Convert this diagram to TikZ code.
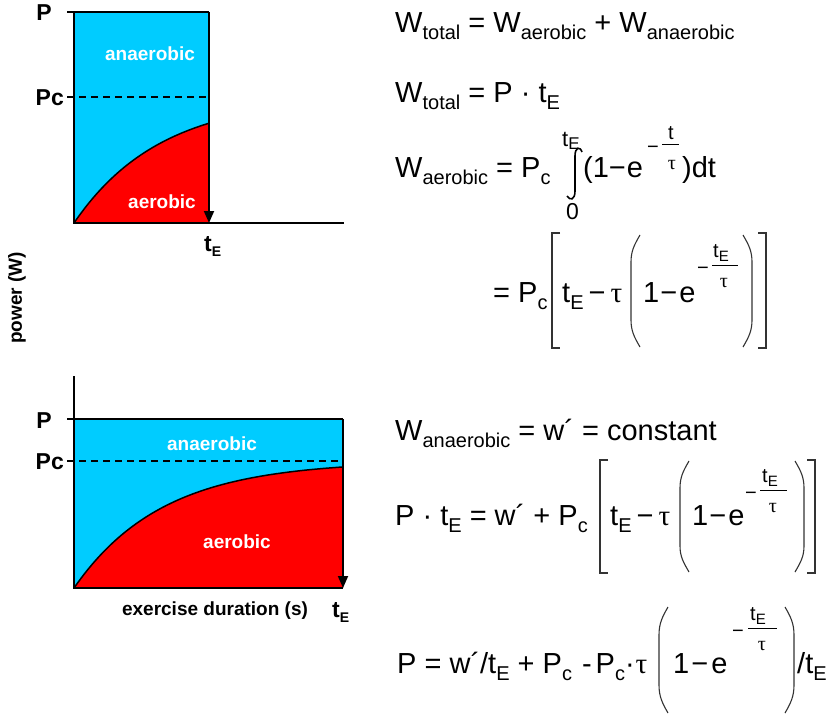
\documentclass[tikz,border=0pt]{standalone}
\usepackage{fontspec}
\setmainfont{Liberation Sans}
\newfontfamily\taufont{Liberation Serif}
\usetikzlibrary{arrows.meta}
\definecolor{skyc}{RGB}{0,204,255}
\newcommand\eqf{\fontsize{29}{32}\selectfont}
\newcommand\mysub[1]{\raisebox{-7pt}{\fontsize{20}{22}\selectfont #1}}
\newcommand\smsub[1]{\raisebox{-4pt}{\fontsize{15}{17}\selectfont #1}}
\newcommand\mytau{{\taufont τ}}
\newcommand\lbf{\fontsize{19}{22}\selectfont\bfseries}
\begin{document}
\begin{tikzpicture}[x=1pt,y=-1pt,
  eq/.style={inner sep=0pt,anchor=base west,font=\eqf},
  ex/.style={inner sep=0pt,anchor=base west,font=\fontsize{20}{22}\selectfont},
  exc/.style={inner sep=0pt,anchor=base,font=\fontsize{20}{22}\selectfont},
  lbl/.style={inner sep=0pt,anchor=east,font=\fontsize{23}{26}\selectfont\bfseries},
  wl/.style={inner sep=0pt,anchor=base,font=\lbf,text=white},
  axisline/.style={line width=1.8pt},
  curveline/.style={line width=1.5pt},
  pcline/.style={line width=1.2pt,dash pattern=on 7pt off 5pt},
  brk/.style={line width=1.1pt,black!80},
  fbar/.style={line width=1pt},
  tri/.style={-{Triangle[width=10pt,length=12pt]}}
]
\useasboundingbox (0,0) rectangle (835,717);

% ---------- top chart ----------
\fill[skyc] (74,12) rectangle (209,223);
\fill[red] (74,223) -- plot[domain=74:209,samples=60] (\x,{223-126*(1-exp(-(\x-74)/86))}) -- (209,223) -- cycle;
\draw[curveline] plot[domain=74:209,samples=60] (\x,{223-126*(1-exp(-(\x-74)/86))});
\draw[pcline] (67,97) -- (209,97);
\draw[axisline] (74,12) -- (74,223) -- (344,223);
\draw[axisline] (67,12) -- (209,12);
\draw[axisline,tri] (209,12) -- (209,223);
\node[lbl] (pT) at (52,13) {P};
\node[lbl] (pcT) at (64,98) {Pc};
\node[wl] (anT) at (150,61) {anaerobic};
\node[wl] (aeT) at (162,208) {aerobic};
\node[inner sep=0pt,anchor=base west,font=\fontsize{23}{26}\selectfont\bfseries] (teT) at (204,251) {t\raisebox{-5pt}{\fontsize{14}{16}\selectfont\bfseries E}};

% y label
\node[inner sep=0pt,rotate=90,font=\lbf] (ylab) at (17,298) {power (W)};

% ---------- bottom chart ----------
\fill[skyc] (74,419) rectangle (343,588);
\fill[red] (74,588) -- plot[domain=74:343,samples=80] (\x,{588-127*(1-exp(-(\x-74)/88))}) -- (343,588) -- cycle;
\draw[curveline] plot[domain=74:343,samples=80] (\x,{588-127*(1-exp(-(\x-74)/88))});
\draw[pcline] (67,461) -- (343,461);
\draw[axisline] (74,376) -- (74,588) -- (343,588);
\draw[axisline] (67,419) -- (343,419);
\draw[axisline,tri] (343,419) -- (343,588);
\node[lbl] (pB) at (52,421) {P};
\node[lbl] (pcB) at (64,462) {Pc};
\node[wl] (anB) at (212,450) {anaerobic};
\node[wl] (aeB) at (237,548) {aerobic};
\node[inner sep=0pt,anchor=base,font=\lbf] (xlab) at (215,615) {exercise duration (s)};
\node[inner sep=0pt,anchor=base west,font=\fontsize{23}{26}\selectfont\bfseries] (teB) at (332,617) {t\raisebox{-5pt}{\fontsize{14}{16}\selectfont\bfseries E}};

% ---------- equation 1 ----------
\node[eq] (e1) at (395,33) {W\mysub{total} = W\mysub{aerobic} + W\mysub{anaerobic}};
% ---------- equation 2 ----------
\node[eq] (e2) at (395,102) {W\mysub{total} = P · t\mysub{E}};
% ---------- equation 3 ----------
\node[eq] (e3a) at (395,177) {W\mysub{aerobic} = P\mysub{c}};
\draw[line width=1.6pt] (582,152) .. controls (580,146) and (575,147) .. (575,156) -- (575,191) .. controls (575,200) and (570,201) .. (567,196);
\node[inner sep=0pt,anchor=base west,font=\fontsize{22}{24}\selectfont] (e3up) at (562,146) {t\raisebox{-3pt}{\fontsize{17}{19}\selectfont E}};
\node[inner sep=0pt,anchor=base west,font=\fontsize{23}{25}\selectfont] (e3lo) at (566,219) {0};
\node[eq] (e3b) at (583,177) {(1−\kern1pt e};
\node[ex] (e3m) at (647,153) {−};
\draw[fbar] (662,144) -- (679,144);
\node[exc] (e3t) at (671,139) {t};
\node[exc] (e3tau) at (672,169) {\mytau};
\node[eq] (e3c) at (682,177) {)dt};

% ---------- equation 4 ----------
\node[eq] (e4a) at (493,302) {= P\mysub{c}};
\draw[brk] (560,233) -- (552,233) -- (552,348) -- (560,348);
\node[eq] (e4b) at (562,302) {t\mysub{E}\kern5pt−\kern5pt\mytau};
\draw[brk] (640,235) to[out=240,in=90] (631,262) -- (631,320) to[out=-90,in=120] (640,347);
\node[eq] (e4c) at (643,302) {1\kern1pt−\kern2pt e};
\node[ex] (e4m) at (697,274) {−};
\draw[fbar] (712,265) -- (738,265);
\node[ex] (e4t) at (713,257) {t\smsub{E}};
\node[exc] (e4tau) at (724,287) {\mytau};
\draw[brk] (743,235) to[out=-60,in=90] (752,262) -- (752,320) to[out=-90,in=60] (743,347);
\draw[brk] (758,233) -- (766,233) -- (766,348) -- (758,348);

% ---------- equation 5 ----------
\node[eq] (e5) at (395,440) {W\mysub{anaerobic} = w´ = constant};

% ---------- equation 6 ----------
\node[eq] (e6a) at (395,525) {P · t\mysub{E} = w´ + P\mysub{c}};
\draw[brk] (608,460) -- (600,460) -- (600,573) -- (608,573);
\node[eq] (e6b) at (610,525) {t\mysub{E}\kern5pt−\kern5pt\mytau};
\draw[brk] (689,461) to[out=240,in=90] (680,488) -- (680,546) to[out=-90,in=120] (689,572);
\node[eq] (e6c) at (692,525) {1\kern1pt−\kern2pt e};
\node[ex] (e6m) at (745,499) {−};
\draw[fbar] (760,490) -- (787,490);
\node[ex] (e6t) at (762,482) {t\smsub{E}};
\node[exc] (e6tau) at (773,512) {\mytau};
\draw[brk] (795,461) to[out=-60,in=90] (804,488) -- (804,546) to[out=-90,in=60] (795,572);
\draw[brk] (807,460) -- (815,460) -- (815,573) -- (807,573);

% ---------- equation 7 ----------
\node[eq] (e7a) at (397,673) {P = w´/t\mysub{E} + P\mysub{c}\kern10pt-\kern4pt P\mysub{c}·\kern1pt\mytau};
\draw[brk] (668,607) to[out=240,in=90] (659,635) -- (659,685) to[out=-90,in=120] (668,713);
\node[eq] (e7b) at (673,673) {1\kern2pt−\kern3pt e};
\node[ex] (e7m) at (732,637) {−};
\draw[fbar] (748,628) -- (777,628);
\node[ex] (e7t) at (750,620) {t\smsub{E}};
\node[exc] (e7tau) at (762,650) {\mytau};
\draw[brk] (785,607) to[out=-60,in=90] (794,635) -- (794,685) to[out=-90,in=60] (785,713);
\node[eq] (e7c) at (797,673) {/t\mysub{E}};
\end{tikzpicture}
\end{document}
